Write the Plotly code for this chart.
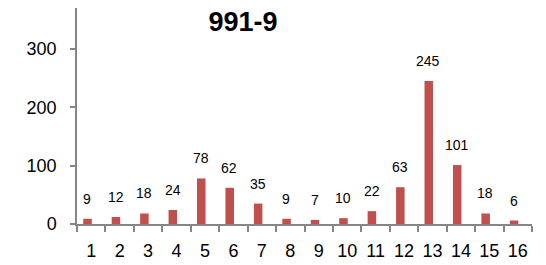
import plotly.graph_objects as go

categories = [str(i) for i in range(1, 17)]
values = [9, 12, 18, 24, 78, 62, 35, 9, 7, 10, 22, 63, 245, 101, 18, 6]
y_ticks = [0, 100, 200, 300]
title_text = "991-9"

FONT = "Liberation Sans"
AXIS_COLOR = "#868686"

# page body has an 8px default margin, so the figure is sized/offset to compensate
W, H = 538, 257

fig = go.Figure()
fig.add_trace(go.Bar(
    x=categories, y=values,
    width=0.30, offset=-0.28,
    marker=dict(color="#C0504D", line=dict(width=0)),
    hoverinfo="skip",
))

for i, v in enumerate(values):
    fig.add_annotation(
        x=i, y=v, xref="x", yref="y",
        text=str(v), showarrow=False,
        xshift=-4, yshift=20, yanchor="middle", xanchor="center",
        font=dict(family=FONT, size=14, color="#000000"),
    )

fig.update_layout(
    width=W, height=H,
    margin=dict(l=69, r=14, t=0, b=41, pad=0),
    paper_bgcolor="white", plot_bgcolor="white",
    showlegend=False,
    title=dict(
        text="<b>" + title_text + "</b>",
        x=235 / W, xref="container", xanchor="center",
        y=1 - 14 / H, yref="container", yanchor="middle",
        font=dict(family=FONT, size=27, color="#000000"),
    ),
    xaxis=dict(
        type="category",
        showline=True, linecolor=AXIS_COLOR, linewidth=1.5,
        ticks="outside", ticklen=6, tickcolor=AXIS_COLOR, tickwidth=1.5,
        tickson="boundaries", tickangle=0, automargin=False,
        showgrid=False, zeroline=False,
        tickfont=dict(family=FONT, size=18, color="#000000"),
        ticklabelstandoff=10,
    ),
    yaxis=dict(
        range=[0, 370],
        tickvals=y_ticks,
        automargin=False,
        showline=True, linecolor=AXIS_COLOR, linewidth=1.5,
        ticks="outside", ticklen=5, tickcolor=AXIS_COLOR, tickwidth=1.5,
        showgrid=False, zeroline=False,
        tickfont=dict(family=FONT, size=18, color="#000000"),
        ticklabelstandoff=10,
    ),
)

fig.write_html("out.html")
